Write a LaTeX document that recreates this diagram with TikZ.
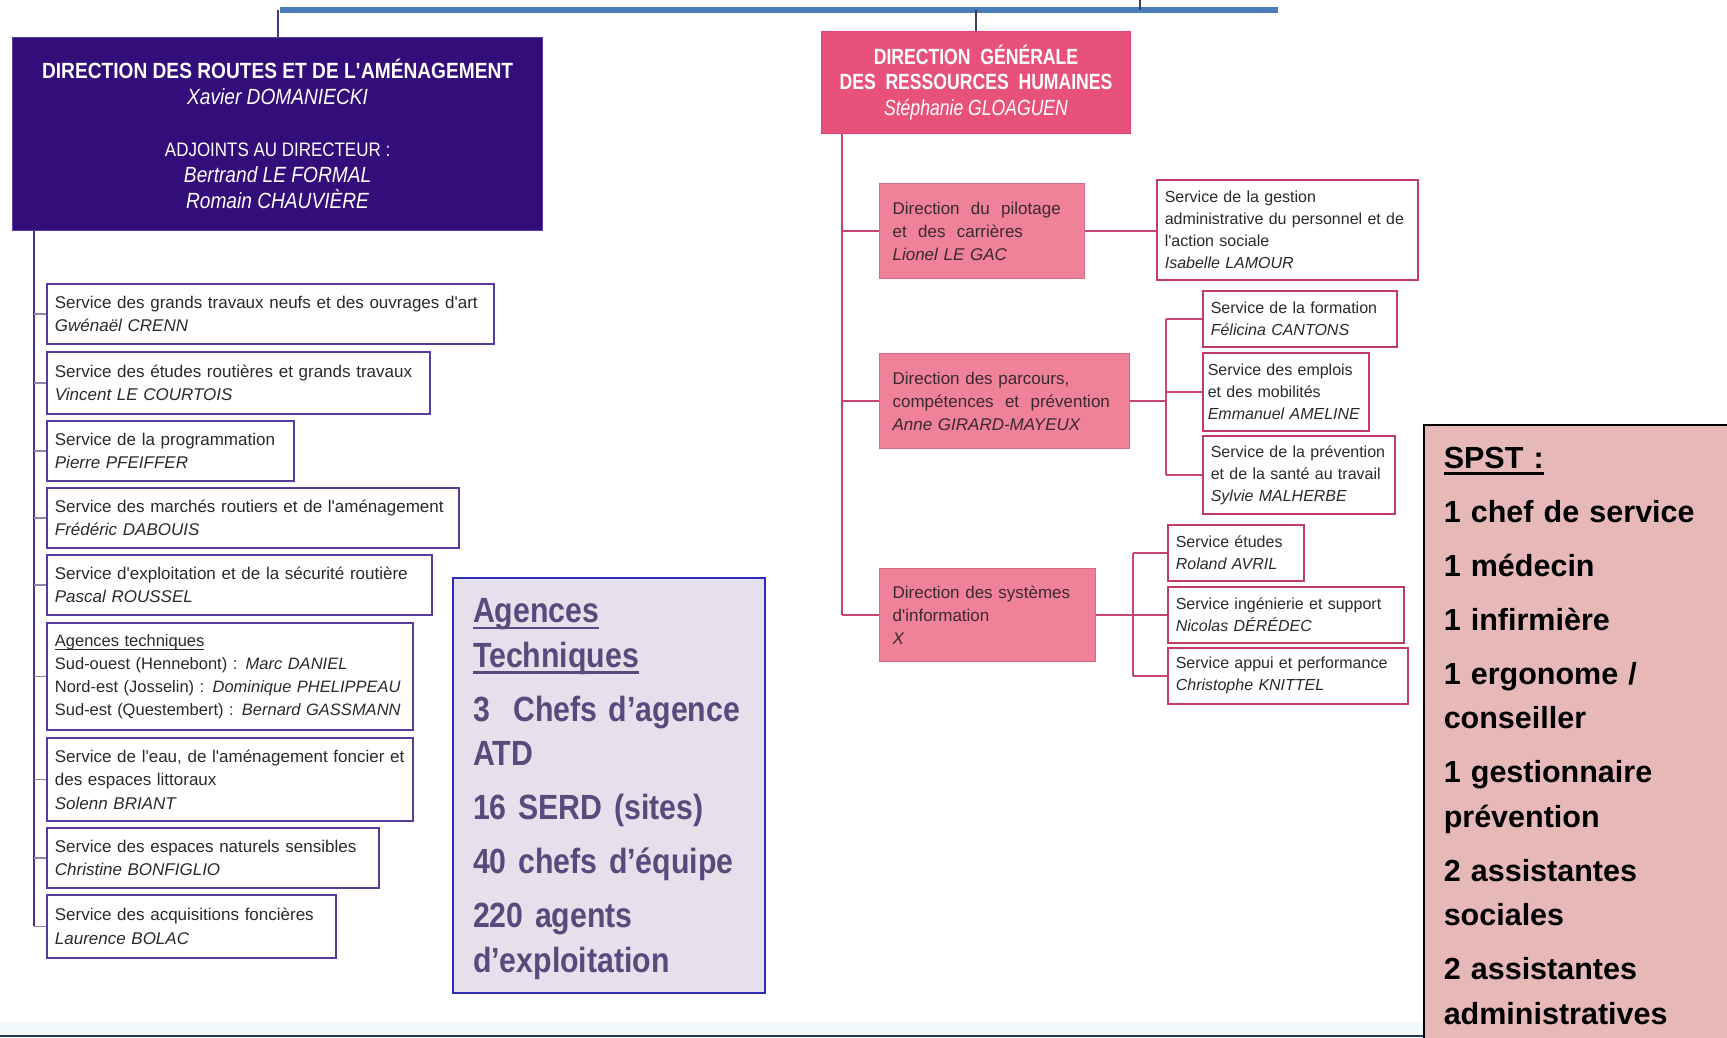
\documentclass[tikz,border=0pt]{standalone}
\usepackage{fontspec}
\setmainfont{Liberation Sans}
\newfontfamily\draFont[FakeStretch=0.87]{Liberation Sans}
\newfontfamily\dgFont[FakeStretch=0.8]{Liberation Sans}
\newfontfamily\agFont[FakeStretch=0.865]{Liberation Sans}
\newcommand\sq{\textquotesingle}
\newcommand\ulbox[3]{\leavevmode{\setbox0=\hbox{#3}\rlap{\rule[-#1]{\wd0}{#2}}\box0}}
\newcommand\ulthin[1]{\ulbox{3.4pt}{0.9pt}{#1}}
\newcommand\ulthick[1]{\ulbox{6.5pt}{2.4pt}{#1}}
\newcommand\nodepth[1]{\raisebox{0pt}[\height][0pt]{#1}}
\definecolor{barblue}{HTML}{4A7EBB}
\definecolor{draFill}{HTML}{330E7A}
\definecolor{drabord}{HTML}{5A3FA0}
\definecolor{dralines}{HTML}{4C2E8E}
\definecolor{tickgray}{HTML}{8E86A8}
\definecolor{svcLdraw}{HTML}{573A9C}
\definecolor{svctext}{HTML}{2A2A2A}
\definecolor{agfill}{HTML}{E5E0EC}
\definecolor{agdraw}{HTML}{2B2BB5}
\definecolor{agtext}{HTML}{5A4A7C}
\definecolor{dgfill}{HTML}{E8527A}
\definecolor{dgdraw}{HTML}{E04570}
\definecolor{subfill}{HTML}{EF8198}
\definecolor{subdraw}{HTML}{D86A86}
\definecolor{subtext}{HTML}{3A2A30}
\definecolor{rsdraw}{HTML}{C23A60}
\definecolor{dglines}{HTML}{C8466E}
\definecolor{spstfill}{HTML}{E6B8B8}
\definecolor{topline}{HTML}{3F3F5F}
\definecolor{bandcol}{HTML}{F1F8FB}
\definecolor{bottomline}{HTML}{1E3A5C}
\begin{document}
\begin{tikzpicture}[x=1pt,y=-1pt,
  svcL/.style={draw=svcLdraw, line width=1.8pt, fill=white, anchor=north west, inner xsep=8pt, inner ysep=0pt, align=left, text=svctext, font={\fontsize{17}{23.5}\selectfont}},
  subdir/.style={draw=subdraw, line width=1.2pt, fill=subfill, anchor=north west, inner xsep=13pt, inner ysep=0pt, align=left, text=subtext, font={\fontsize{17}{23}\selectfont}},
  svcR/.style={draw=rsdraw, line width=1.6pt, fill=white, anchor=north west, inner xsep=8pt, inner ysep=0pt, align=left, text=svctext, font={\fontsize{16}{22}\selectfont}},
  dralink/.style={draw=dralines, line width=2pt},
  dratick/.style={draw=tickgray, line width=1.4pt},
  dglink/.style={draw=dglines, line width=1.5pt},
  barline/.style={draw=barblue, line width=6.5pt},
  darkline/.style={draw=topline, line width=1.6pt}
]
\useasboundingbox (0,0) rectangle (1727,1037);

% bottom band
\fill[bandcol] (0,1022) rectangle (1423,1034);
\draw[bottomline, line width=2.2pt] (0,1036) -- (1423,1036);

% top bar
\coordinate (barL) at (280,10);
\coordinate (barR) at (1278,10);
\coordinate (topT) at (1140,0);

% DRA
\node[draw=drabord, line width=1.2pt, fill=draFill, anchor=north west, minimum width=530pt, minimum height=193pt, inner sep=0pt, align=center, text=white, font={\draFont\fontsize{22}{26}\selectfont}] (dra) at (12,37)
 {\textbf{DIRECTION DES ROUTES ET DE L\sq{}AMÉNAGEMENT}\\ \textit{Xavier DOMANIECKI}\\[26pt]
  {\fontsize{19.5}{26}\selectfont ADJOINTS AU DIRECTEUR :}\\ \textit{Bertrand LE FORMAL}\\ \textit{Romain CHAUVIÈRE}};

\node[svcL, minimum width=447pt, text width=431pt, minimum height=60pt] (la) at (46,283)
 {Service des grands travaux neufs et des ouvrages d\sq{}art\\ \textit{Gwénaël CRENN}};
\node[svcL, minimum width=383pt, text width=367pt, minimum height=62pt] (lb) at (46,351)
 {Service des études routières et grands travaux\\ \textit{Vincent LE COURTOIS}};
\node[svcL, minimum width=247pt, text width=231pt, minimum height=60pt] (lc) at (46,420)
 {Service de la programmation\\ \textit{Pierre PFEIFFER}};
\node[svcL, minimum width=412pt, text width=396pt, minimum height=60pt] (ld) at (46,487)
 {Service des marchés routiers et de l\sq{}aménagement\\ \textit{Frédéric DABOUIS}};
\node[svcL, minimum width=385pt, text width=369pt, minimum height=60pt] (le) at (46,554)
 {Service d\sq{}exploitation et de la sécurité routière\\ \textit{Pascal ROUSSEL}};
\node[svcL, minimum width=366pt, text width=350pt, minimum height=107pt, font={\fontsize{16.5}{23}\selectfont}] (lf) at (46,622)
 {\ulthin{Agences techniques}\\ Sud-ouest (Hennebont) : \textit{Marc DANIEL}\\ Nord-est (Josselin) : \textit{Dominique PHELIPPEAU}\\ Sud-est (Questembert) : \textit{Bernard GASSMANN}};
\node[svcL, minimum width=366pt, text width=350pt, minimum height=83pt] (lg) at (46,737)
 {Service de l\sq{}eau, de l\sq{}aménagement foncier et\\ des espaces littoraux\\ \textit{Solenn BRIANT}};
\node[svcL, minimum width=332pt, text width=316pt, minimum height=60pt] (lh) at (46,827)
 {Service des espaces naturels sensibles\\ \textit{Christine BONFIGLIO}};
\node[svcL, minimum width=289pt, text width=273pt, minimum height=63pt] (li) at (46,894)
 {Service des acquisitions foncières\\ \textit{Laurence BOLAC}};

% Agences techniques box
\node[draw=agdraw, line width=2pt, fill=agfill, anchor=north west, minimum width=312pt, minimum height=415pt, inner xsep=20pt, inner ysep=0pt, text width=272pt, align=left, text=agtext, font={\agFont\bfseries\fontsize{35}{44.5}\selectfont}] (ag) at (452,577)
 {\ulthick{Agences}\\ \ulthick{Techniques}\\[9.5pt] 3\ \ Chefs d’agence\\ ATD\\[9.5pt] 16 SERD (sites)\\[9.5pt] 40 chefs d’équipe\\[9.5pt] 220 agents\\ \nodepth{d’exploitation}};

% DGRH
\node[draw=dgdraw, line width=1pt, fill=dgfill, anchor=north west, minimum width=309pt, minimum height=102pt, inner sep=0pt, align=center, text=white, font={\dgFont\fontsize{22}{25.5}\selectfont}] (dg) at (821,31)
 {\textbf{DIRECTION\ \ GÉNÉRALE}\\ \textbf{DES\ \ RESSOURCES\ \ HUMAINES}\\ \textit{Stéphanie GLOAGUEN}};

\node[subdir, minimum width=205pt, text width=179pt, minimum height=95pt] (sa) at (879,183)
 {Direction\ \ du\ \ pilotage\\ et\ \ des\ \ carrières\\ \textit{Lionel LE GAC}};
\node[subdir, minimum width=250pt, text width=224pt, minimum height=95pt] (sb) at (879,353)
 {Direction des parcours,\\ compétences\ \ et\ \ prévention\\ \textit{Anne GIRARD-MAYEUX}};
\node[subdir, minimum width=216pt, text width=190pt, minimum height=93pt] (sc) at (879,568)
 {Direction des systèmes\\ d\sq{}information\\ \textit{X}};

\node[svcR, minimum width=261pt, text width=245pt, minimum height=100pt] (ra1) at (1156,179)
 {Service de la gestion\\ administrative du personnel et de\\ l\sq{}action sociale\\ \textit{Isabelle LAMOUR}};
\node[svcR, minimum width=194pt, text width=178pt, minimum height=56pt] (rb1) at (1202,290)
 {Service de la formation\\ \textit{Félicina CANTONS}};
\node[svcR, minimum width=166pt, inner xsep=5pt, text width=156pt, minimum height=78pt] (rb2) at (1202,352)
 {Service des emplois\\ et des mobilités\\ \textit{Emmanuel AMELINE}};
\node[svcR, minimum width=192pt, text width=176pt, minimum height=78pt] (rb3) at (1202,435)
 {Service de la prévention\\ et de la santé au travail\\ \textit{Sylvie MALHERBE}};
\node[svcR, minimum width=136pt, text width=120pt, minimum height=56pt] (rc1) at (1167,524)
 {Service études\\ \textit{Roland AVRIL}};
\node[svcR, minimum width=236pt, text width=220pt, minimum height=56pt] (rc2) at (1167,586)
 {Service ingénierie et support\\ \textit{Nicolas DÉRÉDEC}};
\node[svcR, minimum width=240pt, text width=224pt, minimum height=56pt] (rc3) at (1167,647)
 {Service appui et performance\\ \textit{Christophe KNITTEL}};

% SPST
\node[draw=black, line width=1.5pt, fill=spstfill, anchor=north west, minimum width=330pt, minimum height=622pt, inner xsep=20pt, inner ysep=0pt, text width=290pt, align=left, text=black, font={\bfseries\fontsize{30.5}{44.5}\selectfont}] (spst) at (1423,424)
 {\ulthick{SPST :}\\[9.5pt] 1 chef de service\\[9.5pt] 1 médecin\\[9.5pt] 1 infirmière\\[9.5pt] 1 ergonome /\\ conseiller\\[9.5pt] 1 gestionnaire\\ prévention\\[9.5pt] 2 assistantes\\ sociales\\[9.5pt] 2 assistantes\\ administratives};

% top connectors
\draw[barline] (barL) -- (barR);
\draw[darkline] (topT) -- (topT |- barL);
\draw[dralink] (dra.north |- barL) -- (dra.north);
\draw[darkline] (dg.north |- barL) -- (dg.north);

% DRA spine
\coordinate (draS) at ([xshift=22pt]dra.south west);
\draw[dralink] (draS) -- (draS |- li.west);
\foreach \n in {la,lb,lc,ld,le,lf,lg,lh,li}
  \draw[dratick] (draS |- \n.west) -- (\n.west);

% DGRH spine
\coordinate (dgS) at ([xshift=21pt]dg.south west);
\draw[dglink] (dgS) -- (dgS |- sc.west);
\foreach \n in {sa,sb,sc}
  \draw[dglink] (dgS |- \n.west) -- (\n.west);
\draw[dglink] (sa.east) -- (sa.east -| ra1.west);
\coordinate (bj) at ([xshift=36pt]sb.east);
\draw[dglink] (sb.east) -- (bj);
\draw[dglink] (bj |- rb1.west) -- (bj |- rb3.west);
\foreach \n in {rb1,rb2,rb3}
  \draw[dglink] (bj |- \n.west) -- (\n.west);
\coordinate (cj) at ([xshift=37pt]sc.east);
\draw[dglink] (sc.east) -- (sc.east -| rc2.west);
\draw[dglink] (cj |- rc1.west) -- (cj |- rc3.west);
\foreach \n in {rc1,rc3}
  \draw[dglink] (cj |- \n.west) -- (\n.west);
\end{tikzpicture}
\end{document}
